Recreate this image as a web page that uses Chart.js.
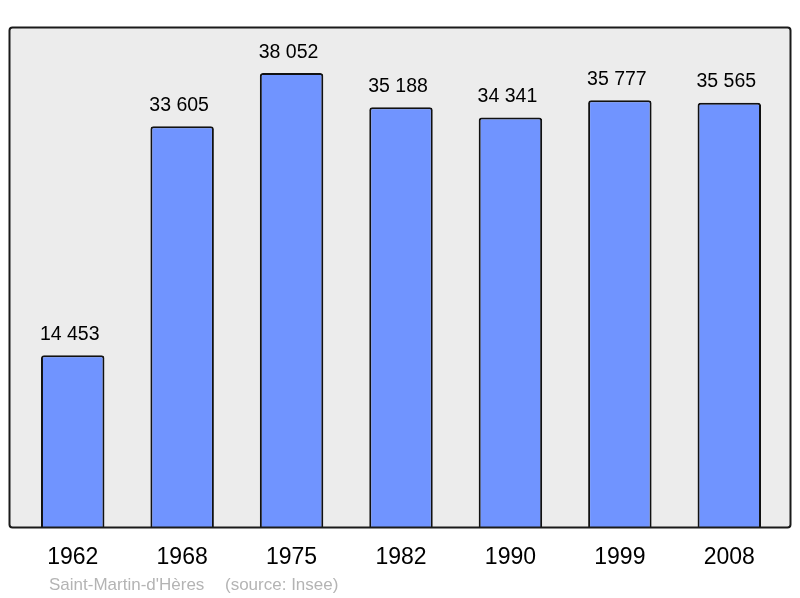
<!DOCTYPE html>
<html>
<head>
<meta charset="utf-8">
<script src="https://cdn.jsdelivr.net/npm/chart.js@4/dist/chart.umd.min.js"></script>
<style>
  body { margin: 0; background: #fff; }
  #wrap { width: 800px; height: 598px; }
</style>
</head>
<body>
<div id="wrap"><canvas id="pop-chart" width="800" height="598"></canvas></div>
<script>
// population data
const years = ['1962', '1968', '1975', '1982', '1990', '1999', '2008'];
const population = [14453, 33605, 38052, 35188, 34341, 35777, 35565];
const commune = "Saint-Martin-d'Hères";
const source = '(source: Insee)';

const fontName = '"Liberation Sans", Arial, sans-serif';

// format 14453 -> "14 453"
function fmt(n){
    return String(n).replace(/\B(?=(\d{3})+(?!\d))/g, ' ');
}

// grey box behind the bars + frame
const frame = {
    id: 'frame',
    beforeDraw(chart){
        const ctx = chart.ctx;
        ctx.save();
        ctx.beginPath();
        ctx.roundRect(9.5, 27.5, 781, 500, 3);
        ctx.fillStyle = '#ececec';
        ctx.fill();
        ctx.restore();
    },
    afterDatasetsDraw(chart){
        const ctx = chart.ctx;
        ctx.save();
        // value labels on top of bars
        const meta = chart.getDatasetMeta(0);
        ctx.font = '19.5px ' + fontName;
        ctx.fillStyle = '#000';
        ctx.textAlign = 'center';
        ctx.textBaseline = 'alphabetic';
        meta.data.forEach(function(bar, i){
            ctx.fillText(fmt(population[i]), bar.x - 3, bar.y - 15.5);
        });
        // frame
        ctx.beginPath();
        ctx.roundRect(9.5, 27.5, 781, 500, 3);
        ctx.lineWidth = 2;
        ctx.strokeStyle = '#1a1a1a';
        ctx.stroke();
        // footer
        ctx.font = '17px ' + fontName;
        ctx.fillStyle = '#b4b4b4';
        ctx.textAlign = 'left';
        ctx.fillText(commune, 49, 590);
        ctx.fillText(source, 225, 590);
        ctx.restore();
    }
};

const data = {
    labels: years,
    datasets: [{
        data: population,
        backgroundColor: '#7094ff',
        borderColor: '#111',
        borderWidth: 2,
        borderRadius: {topLeft: 3, topRight: 3},
        borderSkipped: 'bottom',
        barPercentage: 0.58,
        categoryPercentage: 1
    }]
};

const options = {
    responsive: false,
    animation: false,
    layout: { padding: { left: 18, right: 16, top: 27, bottom: 0 } },
    plugins: {
        legend: { display: false },
        tooltip: { enabled: false }
    },
    scales: {
        x: {
            grid: { display: false, drawTicks: false },
            border: { display: false },
            ticks: {
                color: '#000',
                font: { family: fontName, size: 23 },
                padding: 16
            },
            afterFit: function(scale){ scale.height = 70; }
        },
        y: {
            display: false,
            min: 0,
            max: 41900
        }
    }
};

let ctx = document.getElementById('pop-chart').getContext('2d');
let popChart = new Chart(ctx, {
    type: 'bar',
    data: data,
    options: options,
    plugins: [frame]
});
</script>
</body>
</html>
